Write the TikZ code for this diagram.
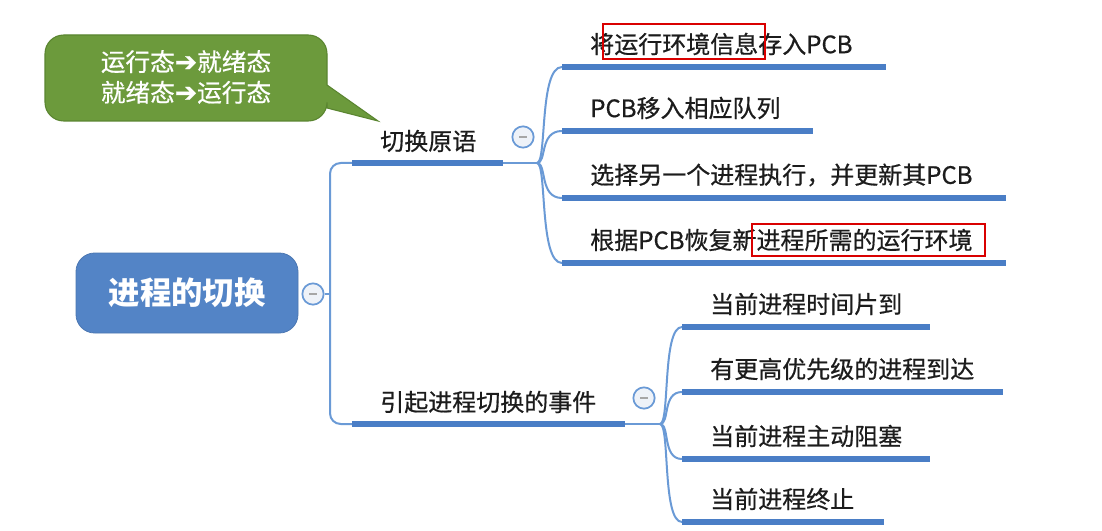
\documentclass[tikz,border=0pt]{standalone}
\usepackage{fontspec}
\usetikzlibrary{calc}
\setmainfont{Noto Sans CJK SC}
\newfontfamily\lblfont{Noto Sans CJK SC}[FakeBold=0.6]
\newfontfamily\dv{DejaVu Sans}[FakeBold=1]
\definecolor{thinblue}{HTML}{6A9AD6}
\definecolor{thickblue}{HTML}{4A7EC6}
\definecolor{rootblue}{HTML}{5384C6}
\definecolor{notegreen}{HTML}{6C9A3C}
\definecolor{notegreenb}{HTML}{5A8530}
\definecolor{txt}{HTML}{1C1C1C}
\definecolor{circfill}{HTML}{EEF2F8}
\tikzset{
  thin line/.style={draw=thinblue, line width=1.5pt},
  under/.style={draw=thickblue, line width=4.2pt},
  lbl/.style={anchor=west, inner sep=0pt, text=txt, font=\lblfont\fontsize{18}{22}\selectfont},
  collapse/.style={circle, draw=thinblue, line width=1.3pt, fill=circfill, minimum size=16pt, inner sep=0pt},
  redbox/.style={draw=red!85!black, line width=0.8pt},
}
\begin{document}
\begin{tikzpicture}[x=0.75pt, y=-0.75pt]
\useasboundingbox (0,0) rectangle (1102,531);
\fill[white] (0,0) rectangle (1102,531);

% callout
\filldraw[fill=notegreen, draw=notegreenb, line width=0.8pt]
  (327,85) [rounded corners=14] -- (327,35) -- (45,35) -- (45,121) -- (327,121) [sharp corners] -- (327,108) -- (378,121) -- cycle;
\node[align=center, text=white, font=\lblfont\fontsize{18.5}{23}\selectfont, inner sep=0pt] (note) at (186,77)
  {运行态{\dv\fontsize{20}{23}\selectfont ➔}就绪态\\就绪态{\dv\fontsize{20}{23}\selectfont ➔}运行态};

% root
\node[rounded corners=14, fill=rootblue, draw=rootblue!90!black, line width=0.6pt, minimum width=166.5pt, minimum height=60pt,
      text=white, font=\fontsize{23.5}{26}\selectfont\bfseries] (root) at (187,293) {进程的切换};
\node[collapse] (c0) at (313,294) {};
\draw[gray!70, line width=1.2pt] ($(c0)+(-4,0)$) -- ($(c0)+(4,0)$);

% level 1
\coordinate (bus1) at (352,163);
\coordinate (bus1e) at (503,163);
\coordinate (j1) at (537,163);
\coordinate (bus2) at (352,424);
\coordinate (bus2e) at (625,424);
\coordinate (j2) at (660,424);
\coordinate (busmid) at (330,294);

\draw[thin line] (c0.east) -- (busmid);
\draw[thin line, rounded corners=8] (bus1) -- (330,163) -- (330,424) -- (bus2);
\draw[under] (bus1) -- (bus1e);
\draw[thin line] (bus1e) -- (j1);
\draw[under] (bus2) -- (bus2e);
\draw[thin line] (bus2e) -- (j2);

\node[lbl] (a) at (380,141) {切换原语};
\node[lbl] (b) at (380,402) {引起进程切换的事件};

\node[collapse] (c1) at (523,137) {};
\draw[gray!70, line width=1.2pt] ($(c1)+(-4,0)$) -- ($(c1)+(4,0)$);
\node[collapse] (c2) at (644,398) {};
\draw[gray!70, line width=1.2pt] ($(c2)+(-4,0)$) -- ($(c2)+(4,0)$);

% group 1 children
\foreach \i/\y/\e/\t in {1/67/886/将运行环境信息存入PCB, 2/131/813/PCB移入相应队列, 3/198/1006/选择另一个进程执行，并更新其PCB, 4/263/1006/根据PCB恢复新进程所需的运行环境}{
  \coordinate (s\i) at (562,\y);
  \coordinate (e\i) at (\e,\y);
  \draw[thin line] (j1) .. controls (547,163) and (539,\y) .. (s\i);
  \draw[under] (s\i) -- (e\i);
  \node[lbl] (t\i) at (590,\y-23) {\t};
}
% group 2 children
\foreach \i/\y/\e/\t in {5/327/930/当前进程时间片到, 6/392/1003/有更高优先级的进程到达, 7/459/930/当前进程主动阻塞, 8/522/884/当前进程终止}{
  \coordinate (s\i) at (682,\y);
  \coordinate (e\i) at (\e,\y);
  \draw[thin line] (j2) .. controls (670,424) and (662,\y) .. (s\i);
  \draw[under] (s\i) -- (e\i);
  \node[lbl] (t\i) at (710,\y-23) {\t};
}

% red annotation boxes
\draw[redbox] (603,24) rectangle (765,59);
\draw[redbox] (752,224) rectangle (985,256);
\end{tikzpicture}
\end{document}
